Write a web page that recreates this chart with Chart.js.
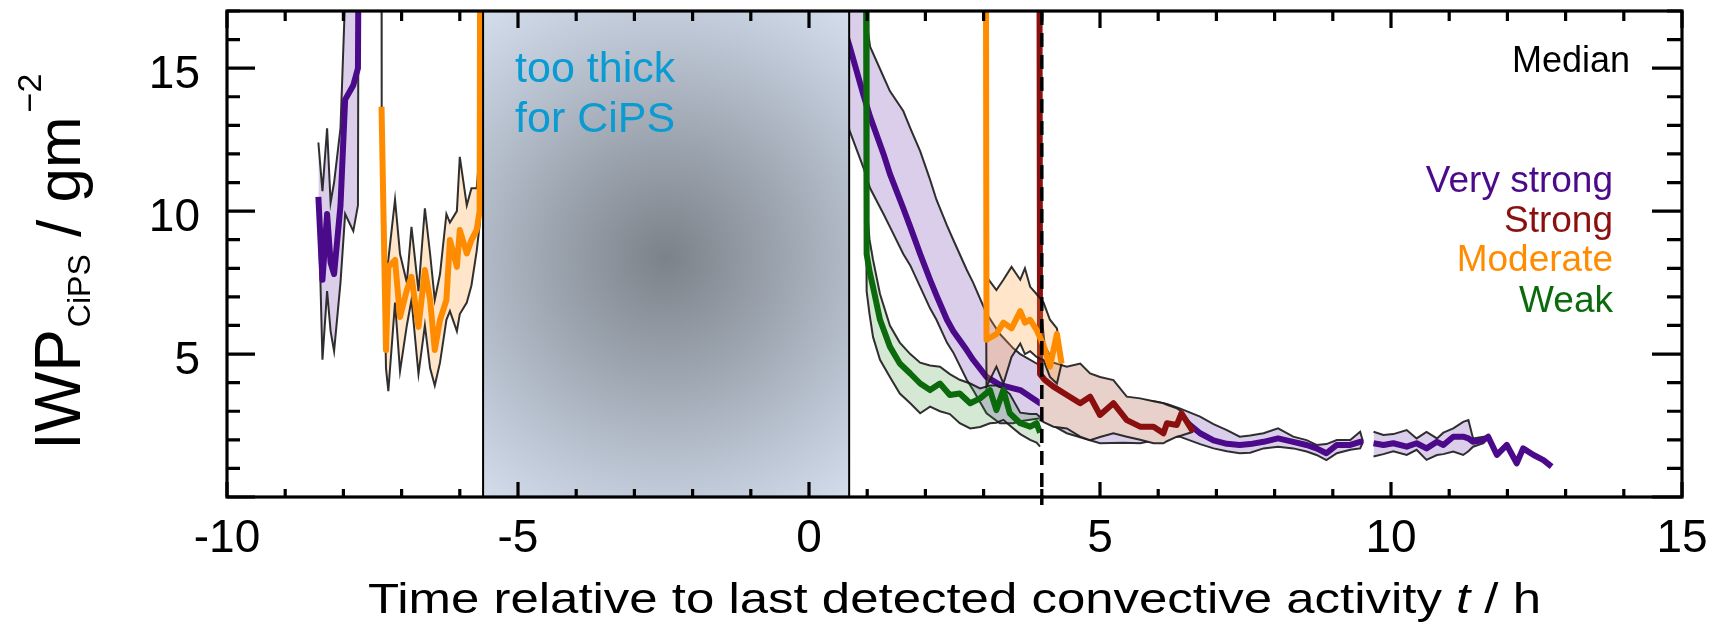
<!DOCTYPE html>
<html>
<head>
<meta charset="utf-8">
<script src="https://cdn.jsdelivr.net/npm/chart.js@4/dist/chart.umd.min.js"></script>
<style>
  html, body { margin: 0; padding: 0; background: #fff; }
  canvas { display: block; }
</style>
</head>
<body>
<canvas id="chart" width="1720" height="624"></canvas>
<script>
const FONT = '"Liberation Sans", Arial, sans-serif';

const xTickLabels = [-10, -5, 0, 5, 10, 15];
const yTickLabels = [5, 10, 15];
const legendNames = ["Very strong", "Strong", "Moderate", "Weak"];

// no CiPS retrieval in this window, last convection at t = 4 h
const gapStart = -5.6;
const gapEnd = 0.69;
const lastConvection = 4;

// very strong, early piece
const vs1T = [-8.43, -8.36, -8.28, -8.22, -8.16, -8.05, -7.97, -7.83, -7.75, -7.74];
const vs1Med = [10.5, 7.6, 9.9, 8.2, 7.8, 10.2, 13.9, 14.4, 15.0, 19];
const vs1Hi = [12.4, 10.7, 12.9, 10.3, 11.0, 12.9, 17.5, 19, 19, 19];
const vs1Lo = [10.3, 4.8, 7.2, 5.8, 5.1, 7.5, 9.9, 9.3, 10.2, 19];

// very strong, main piece
const vs2T = [0.60, 0.70, 0.93, 1.05, 1.28, 1.39, 1.62, 1.74, 1.91, 2.08, 2.19, 2.37, 2.48, 2.71, 2.82, 3.05, 3.28, 3.51, 3.63, 3.97, 4.43, 5.0, 5.4, 5.69, 5.97, 6.15, 6.37, 6.72, 6.95, 7.18, 7.40, 7.58, 7.81, 8.06, 8.32, 8.55, 8.72, 8.89, 9.07, 9.30, 9.47, 9.52];
const vs2Med = [16.4, 15.75, 14.1, 13.3, 12.0, 11.3, 10.1, 9.45, 8.5, 7.6, 7.05, 6.2, 5.8, 5.14, 4.8, 4.2, 3.92, 3.8, 3.74, 3.28, 2.95, 2.75, 2.65, 2.7, 2.78, 2.85, 2.81, 2.23, 1.98, 1.86, 1.82, 1.85, 1.93, 2.05, 1.93, 1.82, 1.70, 1.53, 1.82, 1.82, 1.93, 1.93];
const vs2Hi = [19, 19, 17.5, 15.75, 14.7, 14.2, 13.5, 12.9, 12.1, 11.1, 10.4, 9.5, 8.99, 7.95, 7.5, 6.42, 5.7, 5.2, 5.0, 4.6, 4.0, 3.7, 3.45, 3.4, 3.33, 3.25, 3.1, 2.81, 2.55, 2.34, 2.11, 2.15, 2.23, 2.40, 2.11, 1.99, 1.82, 1.85, 1.99, 1.99, 2.28, 1.93];
const vs2Lo = [13.5, 12.8, 11.55, 10.8, 9.9, 9.45, 8.5, 8.1, 7.35, 6.6, 6.2, 5.4, 5.05, 4.1, 3.74, 2.93, 2.58, 2.58, 2.65, 2.75, 2.23, 1.88, 1.9, 1.88, 2.0, 2.11, 2.11, 1.85, 1.70, 1.6, 1.53, 1.55, 1.70, 1.76, 1.70, 1.59, 1.47, 1.29, 1.53, 1.65, 1.70, 1.93];

// very strong, late piece
const vs3T = [9.70, 9.87, 10.04, 10.27, 10.44, 10.61, 10.79, 10.90, 11.07, 11.24, 11.33, 11.41, 11.59, 11.67, 11.82, 11.99, 12.16, 12.27, 12.45, 12.62, 12.76];
const vs3Med = [1.88, 1.82, 1.88, 1.76, 1.88, 1.70, 1.93, 1.82, 2.11, 2.11, 2.05, 1.93, 1.99, 2.11, 1.47, 1.82, 1.18, 1.70, 1.47, 1.29, 1.06];
const vs3Hi = [2.28, 2.17, 2.2, 2.34, 2.05, 2.28, 2.05, 2.25, 2.4, 2.63, 2.69, 2.05, 2.11, 2.11, null, null, null, null, null, null, null];
const vs3Lo = [1.42, 1.5, 1.6, 1.47, 1.65, 1.30, 1.47, 1.5, 1.59, 1.47, 1.6, 1.76, 1.88, 2.11, null, null, null, null, null, null, null];

// strong
const stT = [3.96, 3.97, 4.05, 4.20, 4.43, 4.66, 4.83, 5.00, 5.23, 5.46, 5.69, 5.92, 6.09, 6.15, 6.32, 6.40, 6.60];
const stMed = [19, 4.3, 4.1, 3.86, 3.57, 3.28, 3.51, 2.87, 3.28, 2.69, 2.46, 2.46, 2.23, 2.58, 2.52, 2.93, 2.28];
const stHi = [6.9, 6.9, 5.3, 4.7, 4.56, 4.67, 4.32, 4.2, 4.09, 3.51, 3.45, 3.35, 3.28, 3.22, 3.1, 3.0, 2.45];
const stLo = [2.7, 2.69, 2.6, 2.46, 2.40, 2.11, 1.99, 2.1, 2.23, 2.11, 2.0, 1.88, 1.88, 1.95, 2.11, 2.15, 2.28];

// moderate, early piece
const md1T = [-7.345, -7.342, -7.268, -7.228, -7.113, -7.027, -6.91, -6.83, -6.71, -6.60, -6.51, -6.43, -6.34, -6.23, -6.17, -6.05, -6.00, -5.88, -5.80, -5.71, -5.66, -5.65];
const md1Med = [13.65, 13.65, 5.14, 8.05, 8.29, 6.3, 7.24, 7.7, 5.95, 7.94, 6.89, 5.14, 6.19, 6.89, 8.99, 8.05, 9.34, 8.52, 8.99, 9.34, 10.0, 19];
const md1Hi = [19, 13.65, 8.0, 8.3, 10.4, 8.5, 7.5, 9.45, 7.2, 10.1, 8.5, 6.9, 7.8, 9.9, 9.6, 10.0, 11.9, 10.2, 10.8, 10.8, 12.0, 19];
const md1Lo = [13.65, 13.65, 4.5, 3.7, 6.8, 4.4, 6.0, 6.9, 4.3, 6.0, 4.5, 3.9, 4.7, 6.2, 6.5, 5.8, 6.4, 6.8, 7.4, 8.6, 9.5, 19];

// moderate, late piece
const md2T = [3.04, 3.05, 3.22, 3.34, 3.48, 3.63, 3.71, 3.80, 3.91, 4.03, 4.14, 4.26, 4.34];
const md2Med = [19, 5.5, 5.7, 6.1, 5.9, 6.5, 6.1, 6.2, 5.85, 5.3, 4.56, 5.7, 4.67];
const md2Hi = [7.7, 7.7, 7.24, 7.6, 8.05, 7.6, 8.0, 7.35, 7.1, 6.8, 6.2, 5.9, 4.8];
const md2Lo = [7.7, 3.86, 4.56, 3.97, 4.9, 5.37, 5.0, 5.1, 4.9, 4.79, 4.2, 3.97, 4.67];

// weak
const wkT = [0.98, 0.99, 1.04, 1.10, 1.22, 1.39, 1.56, 1.74, 1.91, 2.08, 2.25, 2.42, 2.59, 2.77, 2.94, 3.11, 3.22, 3.34, 3.45, 3.63, 3.80, 3.91, 3.97];
const wkMed = [19, 8.5, 7.9, 7.35, 6.2, 5.26, 4.67, 4.32, 3.97, 3.74, 3.97, 3.57, 3.62, 3.28, 3.45, 3.74, 3.04, 3.74, 2.93, 2.58, 2.46, 2.58, 2.25];
const wkHi = [10.5, 10.5, 9.0, 8.3, 7.1, 6.0, 5.4, 5.0, 4.7, 4.6, 4.56, 4.3, 4.1, 3.97, 3.8, 3.9, 3.9, 3.8, 3.6, 2.95, 2.9, 2.9, 2.8];
const wkLo = [10.5, 7.2, 6.4, 5.6, 4.8, 4.2, 3.62, 3.28, 2.93, 3.16, 3.0, 2.9, 2.58, 2.4, 2.45, 2.58, 2.6, 2.7, 2.5, 2.2, 2.0, 1.9, 1.76];

const colors = {
  veryStrong: "#4b0a8a",
  strong: "#8b0f0f",
  moderate: "#ff8c00",
  weak: "#0b6a0b",
};
const bandFill = {
  veryStrong: "rgba(110, 60, 170, 0.25)",
  strong: "rgb(232, 209, 203)",
  moderate: "rgba(255, 160, 60, 0.27)",
  weak: "rgba(40, 140, 40, 0.2)",
};
const outline = "rgba(25, 25, 25, 0.9)";

const pts = (t, v) => t.map((x, i) => ({ x, y: v[i] }));

const datasets = [];

// layer: lower order is drawn on top (weak on top, very strong at the bottom)
function addMedian(t, v, color, layer) {
  datasets.push({
    data: pts(t, v),
    borderColor: color,
    borderWidth: 6,
    borderJoinStyle: "round",
    fill: false,
    order: layer * 2,
  });
}

function addBand(t, lo, hi, fillColor, layer) {
  const loIdx = datasets.length;
  datasets.push({
    data: pts(t, lo),
    borderColor: outline,
    borderWidth: 2,
    fill: false,
    order: layer * 2 + 1,
  });
  datasets.push({
    data: pts(t, hi),
    borderColor: outline,
    borderWidth: 2,
    backgroundColor: fillColor,
    fill: loIdx,
    order: layer * 2 + 1,
  });
}

addBand(wkT, wkLo, wkHi, bandFill.weak, 0);
addMedian(wkT, wkMed, colors.weak, 0);

addBand(md1T, md1Lo, md1Hi, bandFill.moderate, 1);
addBand(md2T, md2Lo, md2Hi, bandFill.moderate, 1);
addMedian(md1T, md1Med, colors.moderate, 1);
addMedian(md2T, md2Med, colors.moderate, 1);

addBand(stT, stLo, stHi, bandFill.strong, 2);
addMedian(stT, stMed, colors.strong, 2);

addBand(vs1T, vs1Lo, vs1Hi, bandFill.veryStrong, 3);
addBand(vs2T, vs2Lo, vs2Hi, bandFill.veryStrong, 3);
addBand(vs3T, vs3Lo, vs3Hi, bandFill.veryStrong, 3);
addMedian(vs1T, vs1Med, colors.veryStrong, 3);
addMedian(vs2T, vs2Med, colors.veryStrong, 3);
addMedian(vs3T, vs3Med, colors.veryStrong, 3);

const decor = {
  id: "decor",
  afterDatasetsDraw(chart) {
    const { ctx, chartArea: a, scales: { x, y } } = chart;
    const x0 = x.getPixelForValue(gapStart);
    const x1 = x.getPixelForValue(gapEnd);

    // grey "too thick" window
    ctx.save();
    const cx = x.getPixelForValue(-2.45);
    const cy = y.getPixelForValue(8.4);
    const g = ctx.createRadialGradient(cx, cy, 0, cx, cy, 320);
    g.addColorStop(0, "#7c8289");
    g.addColorStop(0.35, "#9ba3ae");
    g.addColorStop(0.7, "#bdc6d4");
    g.addColorStop(1, "#d7e2f0");
    ctx.fillStyle = g;
    ctx.fillRect(x0, a.top, x1 - x0, a.bottom - a.top);
    ctx.strokeStyle = "#000";
    ctx.lineWidth = 2;
    ctx.strokeRect(x0, a.top, x1 - x0, a.bottom - a.top);

    ctx.fillStyle = "#0a9bd3";
    ctx.font = `43px ${FONT}`;
    ctx.textAlign = "left";
    ctx.textBaseline = "alphabetic";
    ctx.fillText("too thick", x0 + 32, 82);
    ctx.fillText("for CiPS", x0 + 32, 132);

    // last convection marker
    const xd = x.getPixelForValue(lastConvection);
    ctx.beginPath();
    ctx.setLineDash([14, 8]);
    ctx.lineWidth = 3.5;
    ctx.strokeStyle = "#000";
    ctx.moveTo(xd, a.top);
    ctx.lineTo(xd, a.bottom + 8);
    ctx.stroke();
    ctx.restore();
  },
  afterDraw(chart) {
    const { ctx, chartArea: a, scales: { x, y } } = chart;
    ctx.save();
    ctx.strokeStyle = "#000";
    ctx.fillStyle = "#000";
    ctx.lineWidth = 3.2;
    ctx.strokeRect(a.left, a.top, a.right - a.left, a.bottom - a.top);

    // inward ticks
    ctx.beginPath();
    for (let v = -10; v <= 15; v++) {
      const px = x.getPixelForValue(v);
      const major = v % 5 === 0;
      ctx.moveTo(px, a.bottom);
      ctx.lineTo(px, a.bottom - (major ? 15 : 8));
      ctx.moveTo(px, a.top);
      ctx.lineTo(px, a.top + (major ? 17 : 10));
    }
    for (let v = 0; v <= 17; v++) {
      const py = y.getPixelForValue(v);
      const major = v % 5 === 0;
      ctx.moveTo(a.left, py);
      ctx.lineTo(a.left + (major ? 28 : 13), py);
      ctx.moveTo(a.right, py);
      ctx.lineTo(a.right - (major ? 30 : 15), py);
    }
    ctx.stroke();

    // tick labels
    ctx.font = `46px ${FONT}`;
    ctx.textBaseline = "alphabetic";
    ctx.textAlign = "center";
    xTickLabels.forEach((v) => ctx.fillText(String(v), x.getPixelForValue(v), 552));
    ctx.textAlign = "right";
    yTickLabels.forEach((v) => ctx.fillText(String(v), a.left - 27, y.getPixelForValue(v) + 20));

    // x title, italic t
    const big = `43px ${FONT}`;
    const ital = `italic 43px ${FONT}`;
    const p1 = "Time relative to last detected convective activity ";
    const p3 = " / h";
    ctx.font = big;
    const w1 = ctx.measureText(p1).width;
    const w3 = ctx.measureText(p3).width;
    ctx.font = ital;
    const w2 = ctx.measureText("t").width;
    const sx = 1173 / (w1 + w2 + w3);
    const mid = (a.left + a.right) / 2;
    ctx.save();
    ctx.translate(mid - 1173 / 2, 613);
    ctx.scale(sx, 1);
    ctx.textAlign = "left";
    ctx.font = big;
    ctx.fillText(p1, 0, 0);
    ctx.font = ital;
    ctx.fillText("t", w1, 0);
    ctx.font = big;
    ctx.fillText(p3, w1 + w2, 0);
    ctx.restore();

    // y title, rotated
    ctx.save();
    ctx.translate(80, 450);
    ctx.rotate(-Math.PI / 2);
    ctx.textAlign = "left";
    let lx = 0;
    ctx.font = `64px ${FONT}`;
    ctx.fillText("IWP", lx, 0);
    lx += ctx.measureText("IWP").width + 2;
    ctx.font = `32px ${FONT}`;
    ctx.fillText("CiPS", lx, 10);
    lx += ctx.measureText("CiPS").width;
    ctx.font = `62px ${FONT}`;
    ctx.fillText(" / gm", lx, 0);
    lx += ctx.measureText(" / gm").width + 4;
    ctx.font = `34px ${FONT}`;
    ctx.fillText("\u22122", lx, -39);
    ctx.restore();

    // labels in the upper right
    ctx.textAlign = "right";
    ctx.font = `36px ${FONT}`;
    ctx.fillStyle = "#000";
    ctx.fillText("Median", 1630, 72);
    const legendColors = [colors.veryStrong, colors.strong, colors.moderate, colors.weak];
    const baselines = [192, 232, 271, 312];
    ctx.font = `37px ${FONT}`;
    legendNames.forEach((name, i) => {
      ctx.fillStyle = legendColors[i];
      ctx.fillText(name, 1613, baselines[i]);
    });
    ctx.restore();
  },
};

new Chart(document.getElementById("chart"), {
  type: "line",
  data: { datasets },
  options: {
    responsive: false,
    devicePixelRatio: 1,
    animation: false,
    events: [],
    layout: { padding: { left: 0, right: 38, top: 11, bottom: 0 } },
    elements: { point: { radius: 0 }, line: { tension: 0 } },
    plugins: { legend: { display: false }, tooltip: { enabled: false } },
    scales: {
      x: {
        type: "linear",
        min: -10,
        max: 15,
        grid: { display: false, drawTicks: false },
        border: { display: false },
        ticks: { display: false, stepSize: 5 },
        afterFit: (scale) => { scale.height = 127; },
      },
      y: {
        type: "linear",
        min: 0,
        max: 17,
        grid: { display: false, drawTicks: false },
        border: { display: false },
        ticks: { display: false, stepSize: 5 },
        afterFit: (scale) => { scale.width = 227; },
      },
    },
  },
  plugins: [decor],
});
</script>
</body>
</html>
